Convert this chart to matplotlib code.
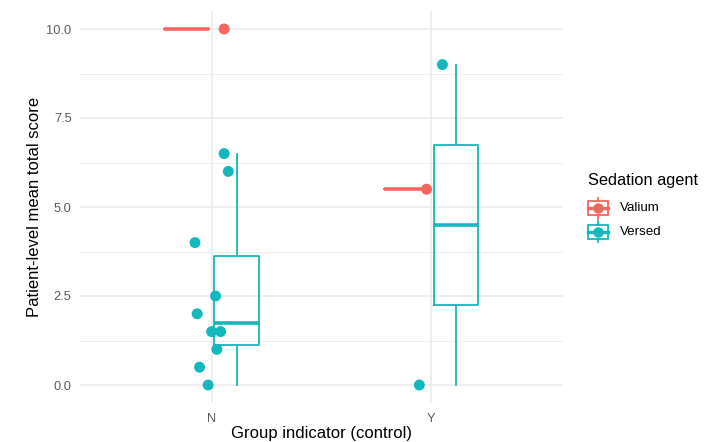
import numpy as np
import matplotlib
matplotlib.use("Agg")
import matplotlib.pyplot as plt
from matplotlib.patches import Rectangle
from matplotlib.lines import Line2D

plt.rcParams['font.family'] = ['Liberation Sans', 'DejaVu Sans']

# ---- data ----
groups = ["N", "Y"]
agents = ["Valium", "Versed"]
colors = {"Valium": "#F5665F", "Versed": "#12B8BC"}

valium_N = [10.0]
valium_Y = [5.5]
versed_N = [6.5, 6.0, 4.0, 2.5, 2.0, 1.5, 1.5, 1.0, 0.5, 0.0]
versed_Y = [9.0, 0.0]

# horizontal jitter (category units)
jit_valium_N = [0.057]
jit_valium_Y = [-0.020]
jit_versed_N = [0.057, 0.076, -0.076, 0.018, -0.066, 0.0, 0.041, 0.024, -0.055, -0.016]
jit_versed_Y = [0.052, -0.053]

yticks = [0.0, 2.5, 5.0, 7.5, 10.0]
ytick_labels = ["0.0", "2.5", "5.0", "7.5", "10.0"]

data = {
    ("Valium", 0): (valium_N, jit_valium_N),
    ("Valium", 1): (valium_Y, jit_valium_Y),
    ("Versed", 0): (versed_N, jit_versed_N),
    ("Versed", 1): (versed_Y, jit_versed_Y),
}

# ---- figure ----
W, H = 705, 442
fig = plt.figure(figsize=(W / 100, H / 100), dpi=100)
left, right = 80 / W, 562.6 / W
bottom, top = 1 - 402.8 / H, 1 - 11.2 / H
ax = fig.add_axes([left, bottom, right - left, top - bottom])

ax.set_xlim(0.4, 2.6)
ax.set_ylim(-0.5, 10.5)

# grid
for yv in [1.25, 3.75, 6.25, 8.75]:
    ax.axhline(yv, color="#EBEBEB", lw=0.6, zorder=0)
for yv in yticks:
    ax.axhline(yv, color="#EBEBEB", lw=1.2, zorder=0)
for xv in [1, 2]:
    ax.axvline(xv, color="#EBEBEB", lw=1.2, zorder=0)

offset = 0.114
bw = 0.203
for (agent, gi), (vals, jit) in data.items():
    pos = gi + 1 + (-offset if agent == "Valium" else offset)
    c = colors[agent]
    ax.boxplot([vals], positions=[pos], widths=bw, whis=1.5, showfliers=False,
               patch_artist=False, manage_ticks=False,
               boxprops=dict(color=c, lw=1.3),
               whiskerprops=dict(color=c, lw=1.3),
               capprops=dict(color=c, lw=0),
               medianprops=dict(color=c, lw=2.6),
               zorder=2)

for (agent, gi), (vals, jit) in data.items():
    xs = np.array(jit) + gi + 1
    ax.scatter(xs, vals, s=62, color=colors[agent], edgecolors='none', zorder=3)

for s in ax.spines.values():
    s.set_visible(False)
ax.set_xticks([1, 2])
ax.set_xticklabels(groups)
ax.set_yticks(yticks)
ax.set_yticklabels(ytick_labels)
ax.tick_params(length=0, labelsize=9.3, labelcolor="#5A5A5A")
ax.tick_params(axis='y', pad=6)
ax.tick_params(axis='x', pad=7)
ax.set_xlabel("Group indicator (control)", fontsize=12, labelpad=1)
ax.set_ylabel("Patient-level mean total score", fontsize=12, labelpad=3)

# ---- legend drawn in pixel coordinates ----
lax = fig.add_axes([0, 0, 1, 1], zorder=5)
lax.set_xlim(0, W)
lax.set_ylim(H, 0)
lax.axis("off")
lax.patch.set_alpha(0)
lax.text(588, 180, "Sedation agent", fontsize=11.8, va="center", ha="left")
for agent, cy in zip(agents, [208, 231.7]):
    c = colors[agent]
    cx = 598
    lax.add_patch(Rectangle((cx - 10, cy - 7), 20, 14, fill=False, edgecolor=c, lw=1.3))
    lax.add_line(Line2D([cx - 10, cx + 10], [cy, cy], color=c, lw=2.4))
    lax.add_line(Line2D([cx, cx], [cy - 10.5, cy - 7], color=c, lw=1.3))
    lax.add_line(Line2D([cx, cx], [cy + 7, cy + 10.5], color=c, lw=1.3))
    lax.plot([cx], [cy], 'o', ms=7.5, color=c, mec='none')
    lax.text(620, cy, agent, fontsize=9.6, va="center", ha="left")

fig.savefig("out.png", dpi=100, facecolor="white")
